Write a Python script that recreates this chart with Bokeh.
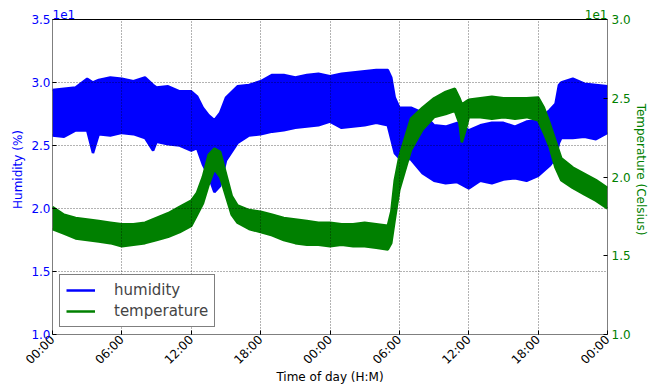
import math
from bokeh.plotting import figure
from bokeh.models import (Range1d, LinearAxis, FixedTicker, CustomJSTickFormatter,
                          Legend, LegendItem, Label, ColumnDataSource, BoxAnnotation)
from bokeh.embed import file_html
from bokeh.resources import INLINE

# ---------------- data ----------------
# time in hours since the first midnight
hum_hours = [0, 1, 2, 3, 3.5, 4, 5, 6, 7, 8, 8.7, 9, 10, 11, 12, 12.5, 13, 13.5, 14, 14.5,
             15, 16, 17, 18, 19, 20, 21, 22, 23, 24, 25, 26, 27, 28, 29, 29.3, 29.6, 30,
             31, 32, 33, 34, 35, 36, 37, 38, 39, 40, 41, 42, 43, 43.5, 43.8, 44, 45, 46, 47, 48]
hum_upper = [29.4, 29.5, 29.6, 30.3, 30.0, 30.2, 30.4, 30.3, 30.1, 30.4, 29.8, 29.6, 29.7, 29.3,
             29.3, 28.9, 28.0, 27.4, 27.0, 27.6, 28.8, 29.7, 29.8, 30.1, 30.6, 30.6, 30.4, 30.6,
             30.7, 30.5, 30.7, 30.8, 30.9, 31.0, 31.0, 30.4, 28.8, 28.0, 28.0, 27.6, 26.6, 26.5,
             26.8, 26.2, 26.6, 26.8, 26.8, 26.5, 26.9, 27.0, 27.8, 28.3, 29.8, 30.0, 30.3, 29.9,
             29.8, 29.7]
hum_lower = [25.8, 25.7, 26.2, 26.2, 24.4, 25.9, 25.8, 26.0, 25.9, 25.6, 24.6, 25.3, 25.1, 25.0,
             24.6, 24.8, 23.5, 22.6, 21.3, 21.8, 23.8, 25.2, 25.8, 25.9, 26.1, 26.2, 26.4, 26.5,
             26.6, 26.9, 26.4, 26.5, 26.6, 26.8, 26.6, 25.5, 24.4, 24.0, 23.9, 22.8, 22.2, 22.0,
             22.1, 21.6, 22.2, 22.0, 22.3, 22.4, 22.2, 22.6, 23.4, 24.0, 25.2, 25.6, 25.6, 25.7,
             25.5, 26.0]

temp_hours = [0, 1, 2, 3, 4, 5, 6, 7, 8, 9, 10, 11, 12, 12.5, 13, 13.5, 14, 14.5, 15, 15.5,
              16, 17, 18, 19, 20, 21, 22, 23, 24, 25, 26, 27, 28, 29, 29.3, 29.6, 30, 31, 32,
              33, 34, 34.8, 35.2, 35.4, 35.8, 36, 37, 38, 39, 40, 41, 42, 42.5, 43, 43.5, 44,
              45, 46, 47, 48]
temp_upper = [18.1, 17.6, 17.4, 17.3, 17.2, 17.1, 17.0, 17.0, 17.1, 17.4, 17.7, 18.1, 18.5, 19.0,
              20.0, 21.4, 21.8, 21.6, 20.2, 18.8, 18.2, 17.9, 17.8, 17.6, 17.4, 17.3, 17.2, 17.1,
              17.1, 17.0, 17.0, 17.1, 17.0, 16.9, 17.8, 19.8, 21.3, 23.7, 24.4, 25.0, 25.4, 25.6,
              25.0, 24.6, 24.8, 24.9, 25.0, 25.1, 25.0, 25.0, 25.0, 25.05, 24.4, 23.4, 22.3, 21.2,
              20.6, 20.2, 19.8, 19.3]
temp_lower = [16.7, 16.4, 16.1, 16.0, 15.9, 15.8, 15.6, 15.7, 15.8, 16.0, 16.2, 16.5, 16.9, 17.6,
              18.3, 19.5, 20.5, 20.0, 18.8, 17.6, 17.1, 16.7, 16.5, 16.3, 16.0, 15.8, 15.7, 15.7,
              15.6, 15.7, 15.6, 15.6, 15.5, 15.4, 15.8, 17.3, 19.2, 21.7, 23.0, 23.8, 24.0, 24.2,
              23.4, 22.2, 23.2, 23.8, 23.8, 23.7, 23.8, 23.7, 23.8, 23.6, 22.8, 21.9, 20.6, 19.8,
              19.3, 18.9, 18.5, 18.0]

x_ticks = [0, 6, 12, 18, 24, 30, 36, 42, 48]
x_tick_labels = ["00:00", "06:00", "12:00", "18:00", "00:00", "06:00", "12:00", "18:00", "00:00"]
hum_ticks = [10, 15, 20, 25, 30, 35]
temp_ticks = [10, 15, 20, 25, 30]
HUM_MIN, HUM_MAX = 10, 35
TEMP_MIN, TEMP_MAX = 10, 30
X_MIN, X_MAX = 0, 48

BLUE = "#0000ff"
GREEN = "#008000"
FONT = "DejaVu Sans"

# layout: the plotting box is 315 px tall; 15 px of headroom above it hold the "1e1" texts
BOX_PX = 315.0
HEAD_PX = 15.0
hum_top = HUM_MAX + (HUM_MAX - HUM_MIN) * HEAD_PX / BOX_PX
temp_top = TEMP_MAX + (TEMP_MAX - TEMP_MIN) * HEAD_PX / BOX_PX

# ---------------- figure ----------------
p = figure(width=657, height=387, output_backend="svg", toolbar_location=None,
           x_range=Range1d(X_MIN, X_MAX), y_range=Range1d(HUM_MIN, hum_top),
           min_border_left=52, min_border_right=50, min_border_top=4, min_border_bottom=53)
p.extra_y_ranges = {"temp": Range1d(TEMP_MIN, temp_top)}
p.background_fill_color = "white"
p.border_fill_color = "white"
p.outline_line_color = None

hum_src = ColumnDataSource(dict(x=hum_hours, top=hum_upper, bot=hum_lower))
temp_src = ColumnDataSource(dict(x=temp_hours, top=temp_upper, bot=temp_lower))

p.varea(x="x", y1="bot", y2="top", source=hum_src, fill_color=BLUE)
h1 = p.line(x="x", y="top", source=hum_src, line_color=BLUE, line_width=2.5)
p.line(x="x", y="bot", source=hum_src, line_color=BLUE, line_width=2.5)

p.varea(x="x", y1="bot", y2="top", source=temp_src, fill_color=GREEN, y_range_name="temp")
t1 = p.line(x="x", y="top", source=temp_src, line_color=GREEN, line_width=2.5, y_range_name="temp")
p.line(x="x", y="bot", source=temp_src, line_color=GREEN, line_width=2.5, y_range_name="temp")

# ---------------- axes ----------------
xa = p.xaxis[0]
xa.ticker = FixedTicker(ticks=x_ticks)
xa.major_label_overrides = {t: l for t, l in zip(x_ticks, x_tick_labels)}
xa.major_label_orientation = math.pi / 4
xa.major_label_text_font = FONT
xa.major_label_text_font_size = "12px"
xa.major_label_text_color = "black"
xa.major_label_standoff = 3
xa.major_tick_in = 4
xa.major_tick_out = 0
xa.minor_tick_line_color = None
xa.axis_line_color = None
xa.axis_label = "Time of day (H:M)"
xa.axis_label_text_font = FONT
xa.axis_label_text_font_size = "12px"
xa.axis_label_text_font_style = "normal"
xa.axis_label_text_color = "black"
xa.axis_label_standoff = -5

ya = p.yaxis[0]
ya.ticker = FixedTicker(ticks=hum_ticks)
ya.formatter = CustomJSTickFormatter(code="return (tick/10).toFixed(1);")
ya.major_label_text_font = FONT
ya.major_label_text_font_size = "12px"
ya.major_label_text_color = BLUE
ya.major_label_standoff = 2
ya.major_tick_in = 4
ya.major_tick_out = 0
ya.minor_tick_line_color = None
ya.axis_line_color = None
ya.axis_label = "Humidity (%)"
ya.axis_label_text_font = FONT
ya.axis_label_text_font_size = "12px"
ya.axis_label_text_font_style = "normal"
ya.axis_label_text_color = BLUE
ya.axis_label_standoff = 3

ra = LinearAxis(y_range_name="temp")
ra.ticker = FixedTicker(ticks=temp_ticks)
ra.formatter = CustomJSTickFormatter(code="return (tick/10).toFixed(1);")
ra.major_label_text_font = FONT
ra.major_label_text_font_size = "12px"
ra.major_label_text_color = GREEN
ra.major_label_standoff = 4
ra.major_tick_in = 4
ra.major_tick_out = 0
ra.minor_tick_line_color = None
ra.axis_line_color = None
ra.axis_label = "Temperature (Celsius)"
ra.axis_label_text_font = FONT
ra.axis_label_text_font_size = "12px"
ra.axis_label_text_font_style = "normal"
ra.axis_label_text_color = GREEN
ra.axis_label_standoff = 0
p.add_layout(ra, "right")

# ---------------- grid ----------------
for g in (p.xgrid[0], p.ygrid[0]):
    g.grid_line_color = "black"
    g.grid_line_alpha = 0.6
    g.grid_line_dash = "1 2"
    g.grid_line_width = 1
    g.level = "annotation"
p.xgrid[0].ticker = FixedTicker(ticks=x_ticks)
p.ygrid[0].ticker = FixedTicker(ticks=hum_ticks)

# white headroom above the plotting box (hides grid lines there) and the box outline
p.add_layout(BoxAnnotation(bottom=HUM_MAX, fill_color="white", fill_alpha=1.0,
                           line_color=None, level="annotation"))
p.add_layout(BoxAnnotation(left=X_MIN, right=X_MAX, bottom=HUM_MIN, top=HUM_MAX,
                           fill_alpha=0.0, line_color="black", line_width=1,
                           line_alpha=1.0, level="annotation"))

# ---------------- offset texts ----------------
p.add_layout(Label(x=X_MIN, y=HUM_MAX, text="1e1", text_align="left", text_baseline="bottom",
                   y_offset=1, text_color=BLUE, text_font=FONT, text_font_size="12px"))
p.add_layout(Label(x=X_MAX, y=HUM_MAX, text="1e1", text_align="right", text_baseline="bottom",
                   y_offset=1, text_color=GREEN, text_font=FONT, text_font_size="12px"))

# ---------------- legend ----------------
legend = Legend(items=[LegendItem(label="humidity", renderers=[h1]),
                       LegendItem(label="temperature", renderers=[t1])],
                location=(7, 7), label_text_font=FONT, label_text_font_size="15px",
                padding=6, spacing=3, glyph_height=18, label_height=18, glyph_width=29,
                label_standoff=19, margin=0, border_line_color="black", border_line_width=1,
                background_fill_color="white", background_fill_alpha=1.0)
p.add_layout(legend, "center")

open("out.html", "w").write(file_html(p, INLINE))
